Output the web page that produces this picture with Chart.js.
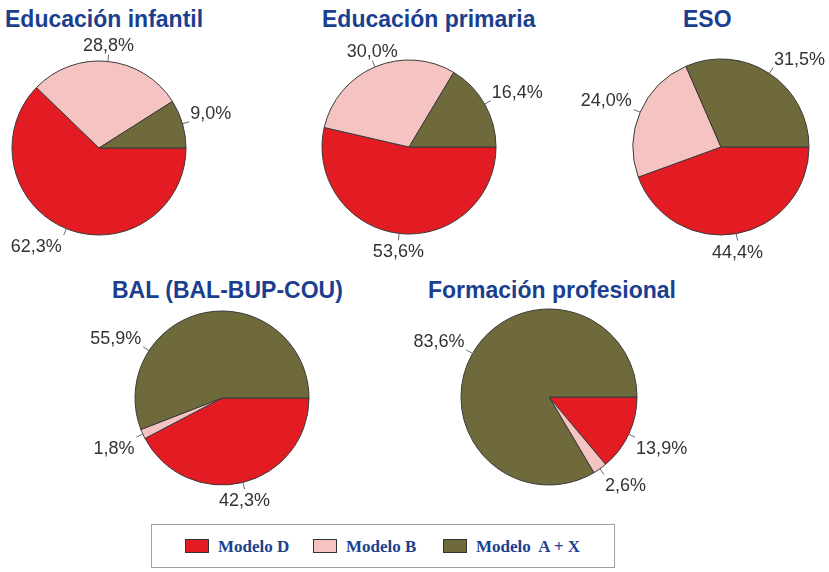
<!DOCTYPE html>
<html>
<head>
<meta charset="utf-8">
<script src="https://cdn.jsdelivr.net/npm/chart.js@4"></script>
<style>
  html, body { margin: 0; padding: 0; width: 829px; height: 572px; overflow: hidden; background: #ffffff; }
  canvas { position: absolute; }
  .title {
    position: absolute; text-align: left;
    font: bold 23px "Liberation Sans", Arial, sans-serif; line-height: 26px;
    color: #1b3f8f; white-space: nowrap;
  }
  #legend {
    position: absolute; left: 151px; top: 524px; width: 464px; height: 44px;
    border: 1px solid #a0a0a8; box-sizing: border-box;
  }
  .item { position: absolute; top: 12px; font: bold 17px "Liberation Serif", "Times New Roman", serif;
    color: #1d3f8f; white-space: pre; line-height: 20px; }
  .sw { display: inline-block; width: 22px; height: 12px; border: 1px solid #333; vertical-align: -1px; margin-right: 9px; }
</style>
</head>
<body>

<div class="title" style="left:5px; top:6px;">Educación infantil</div>
<div class="title" style="left:322px; top:6px;">Educación primaria</div>
<div class="title" style="left:683px; top:6px;">ESO</div>
<div class="title" style="left:112px; top:277px;">BAL (BAL-BUP-COU)</div>
<div class="title" style="left:428px; top:277px;">Formación profesional</div>

<canvas id="c1" width="300" height="250" style="left:-51px; top:23px;"></canvas>
<canvas id="c2" width="300" height="250" style="left:259px; top:22px;"></canvas>
<canvas id="c3" width="300" height="250" style="left:571px; top:22px;"></canvas>
<canvas id="c4" width="300" height="250" style="left:72px; top:273px;"></canvas>
<canvas id="c5" width="300" height="250" style="left:399px; top:272px;"></canvas>

<div id="legend">
  <div class="item" style="left:33px;"><span class="sw" style="background:#e31b23"></span>Modelo D</div>
  <div class="item" style="left:161px;"><span class="sw" style="background:#f5c4c2"></span>Modelo B</div>
  <div class="item" style="left:291px;"><span class="sw" style="background:#6f6a3b"></span>Modelo  A + X</div>
</div>

<script>
// categories in drawing order (clockwise from 3 o'clock)
const categories = ['Modelo D', 'Modelo B', 'Modelo A+X'];
const colors = ['#e31b23', '#f5c4c2', '#6f6a3b'];

// percentages per level
const infantil = [62.3, 28.8, 9.0];
const primaria = [53.6, 30.0, 16.4];
const eso = [44.4, 24.0, 31.5];
const bal = [42.3, 1.8, 55.9];
const fp = [13.9, 2.6, 83.6];

// labels outside the pie with a short leader line
const outLabels = {
    id: 'outLabels',
    afterDatasetsDraw(chart, args, opts) {
        const ctx = chart.ctx;
        const meta = chart.getDatasetMeta(0);
        const values = chart.data.datasets[0].data;
        ctx.save();
        ctx.font = '18px "Liberation Sans", Arial, sans-serif';
        ctx.fillStyle = '#333333';
        ctx.strokeStyle = '#6a6a6a';
        ctx.lineWidth = 1;
        meta.data.forEach((arc, i) => {
            const p = arc.getProps(['x', 'y', 'startAngle', 'endAngle', 'outerRadius'], true);
            let mid = (p.startAngle + p.endAngle) / 2;
            // some labels were moved by hand in the original
            if (opts.angles && opts.angles[i] != null) mid = -opts.angles[i] * Math.PI / 180;
            const cos = Math.cos(mid), sin = Math.sin(mid);
            const x1 = p.x + cos * p.outerRadius, y1 = p.y + sin * p.outerRadius;
            const x2 = p.x + cos * (p.outerRadius + 7), y2 = p.y + sin * (p.outerRadius + 7);
            ctx.beginPath();
            ctx.moveTo(x1, y1);
            ctx.lineTo(x2, y2);
            ctx.stroke();

            const txt = values[i].toFixed(1).replace('.', ',') + '%';
            let align = Math.abs(cos) < 0.3 ? 'center' : (cos > 0 ? 'left' : 'right');
            if (opts.align && opts.align[i]) align = opts.align[i];
            ctx.textAlign = align;
            ctx.textBaseline = sin < 0 ? 'bottom' : 'top';
            const tx = align == 'left' ? x2 + 1 : (align == 'right' ? x2 - 2 : x2);
            ctx.fillText(txt, tx, y2 + (sin < 0 ? 1 : 3));
        });
        ctx.restore();
    }
};

function makePie(id, values, radius, labelOpts) {
    return new Chart(document.getElementById(id), {
        type: 'pie',
        data: {
            labels: categories,
            datasets: [{
                data: values,
                backgroundColor: colors,
                borderColor: '#3a3a3a',
                borderWidth: 1,
                radius: radius
            }]
        },
        options: {
            responsive: false,
            animation: false,
            devicePixelRatio: 1,
            rotation: 90,
            layout: { padding: 0 },
            plugins: {
                legend: { display: false },
                tooltip: { enabled: false },
                outLabels: labelOpts || {}
            }
        },
        plugins: [outLabels]
    });
}

makePie('c1', infantil, 87);
makePie('c2', primaria, 87, { align: { 1: 'center' } });
makePie('c3', eso, 88);
makePie('c4', bal, 87, { angles: { 2: 147 } });
makePie('c5', fp, 88);
</script>
</body>
</html>
